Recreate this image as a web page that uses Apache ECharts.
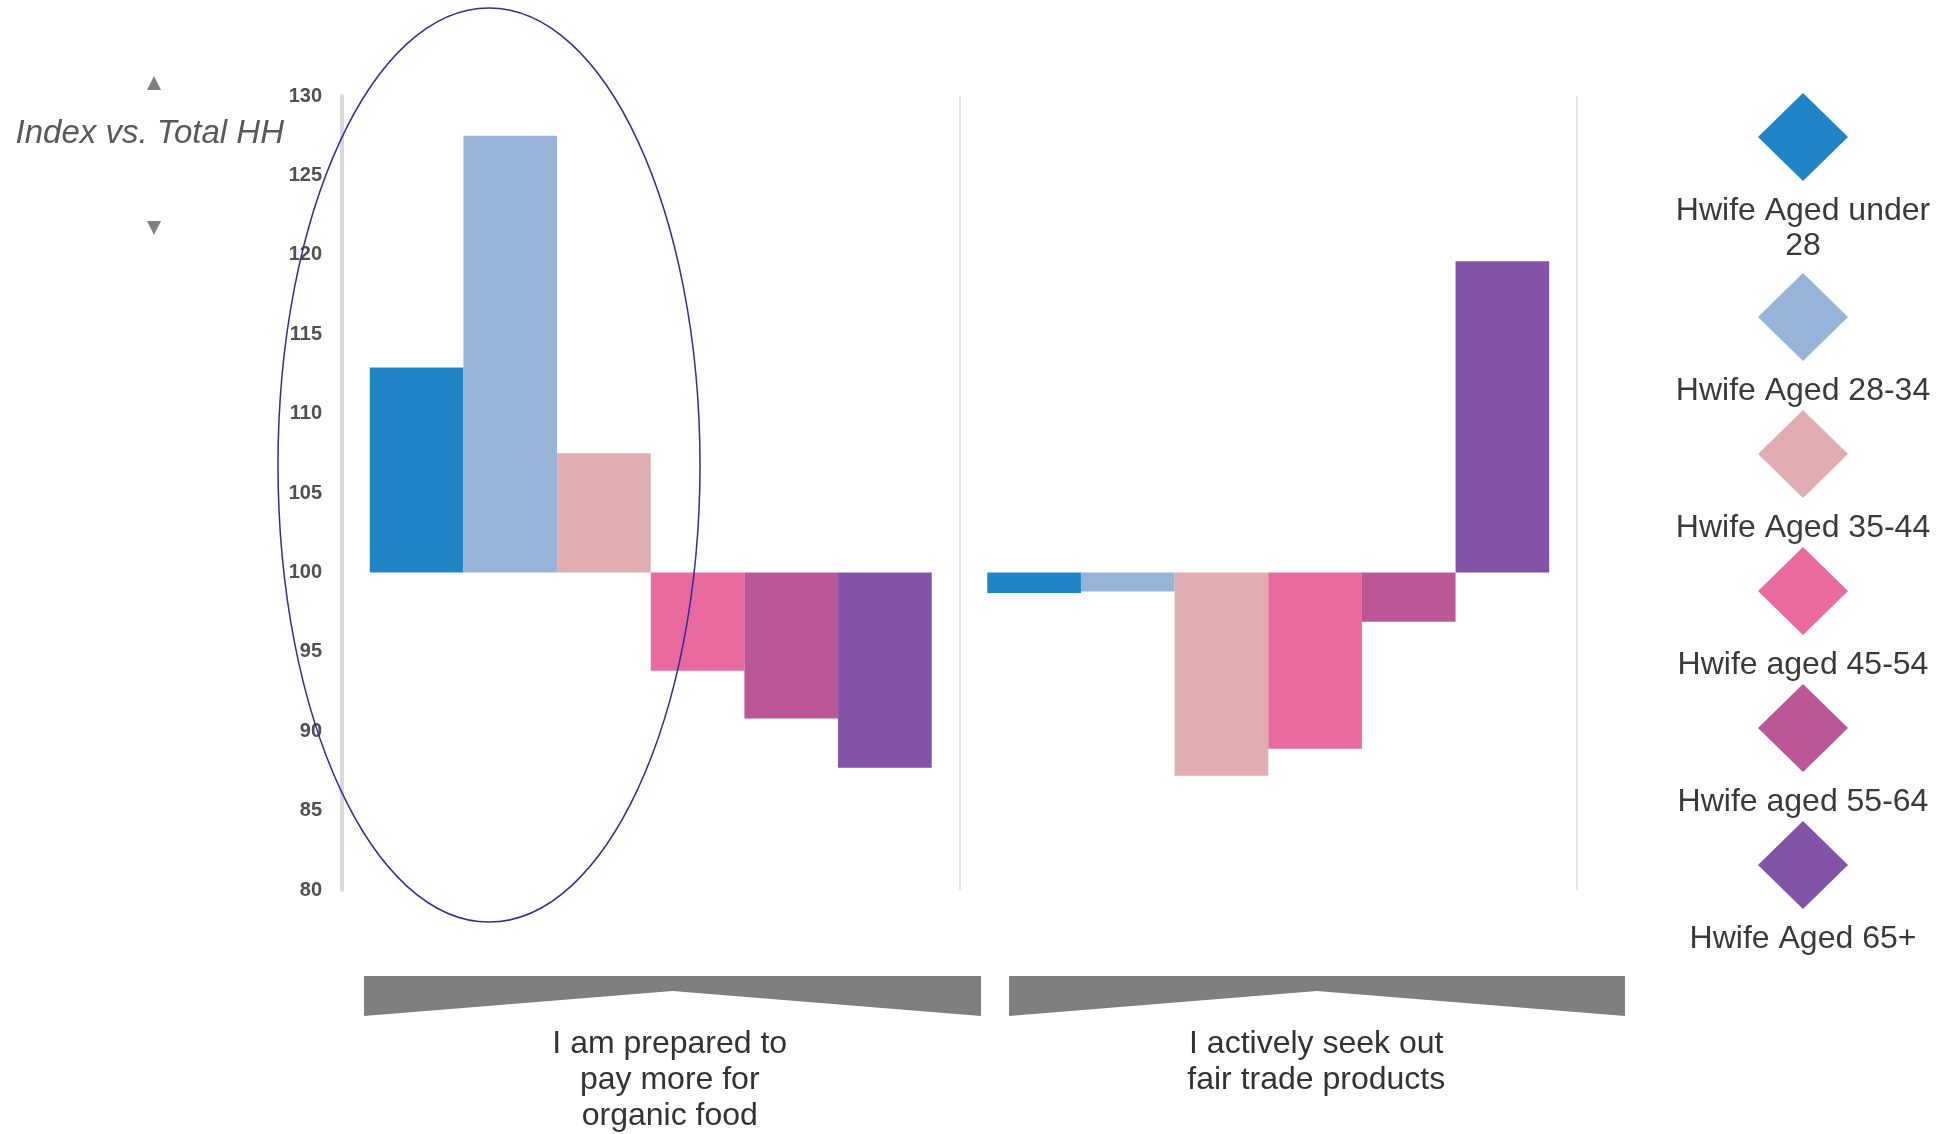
<!DOCTYPE html>
<html><head><meta charset="utf-8">
<script src="https://cdn.jsdelivr.net/npm/echarts@6/dist/echarts.min.js"></script>
<style>html,body{margin:0;padding:0;background:#fff}#c{width:1950px;height:1134px}</style>
</head><body><div id="c"></div>
<script>
// ---- data ----
const categories = ['I am prepared to\npay more for\norganic food', 'I actively seek out\nfair trade products'];
const seriesNames = ['Hwife Aged under 28', 'Hwife Aged 28-34', 'Hwife Aged 35-44', 'Hwife aged 45-54', 'Hwife aged 55-64', 'Hwife Aged 65+'];
const legendLabels = ['Hwife Aged under\n28', 'Hwife Aged 28-34', 'Hwife Aged 35-44', 'Hwife aged 45-54', 'Hwife aged 55-64', 'Hwife Aged 65+'];
const under28   = [112.9, 98.7];
const aged28_34 = [127.5, 98.8];
const aged35_44 = [107.5, 87.2];
const aged45_54 = [93.8, 88.9];
const aged55_64 = [90.8, 96.9];
const aged65up  = [87.7, 119.6];
const yTicks = [80, 85, 90, 95, 100, 105, 110, 115, 120, 125, 130];
const BASE = 100;
const colors = ['#1F85C6', '#97B3D7', '#E0AEB0', '#E96A9E', '#BB5697', '#8353A8'];

const allSeries = [under28, aged28_34, aged35_44, aged45_54, aged55_64, aged65up];
const FONT = "'Liberation Sans', Arial, sans-serif";

const chart = echarts.init(document.getElementById('c'));

const graphics = [];
// axis arrows
graphics.push({type: 'polygon', shape: {points: [[147, 90], [161, 90], [154, 76]]}, style: {fill: '#7f7f7f'}});
graphics.push({type: 'polygon', shape: {points: [[147, 221], [161, 221], [154, 235]]}, style: {fill: '#7f7f7f'}});
// banners under categories
[[364, 981], [1009, 1625]].forEach(function (b) {
  const mid = (b[0] + b[1]) / 2;
  graphics.push({type: 'polygon', shape: {points: [[b[0], 976], [b[1], 976], [b[1], 1016], [mid, 991], [b[0], 1016]]}, style: {fill: '#7f7f7f'}});
});
// highlight ellipse
graphics.push({type: 'ellipse', shape: {cx: 489, cy: 465, rx: 211, ry: 457}, style: {fill: 'none', stroke: '#2E2E9E', lineWidth: 1.5}, z: 100});
// legend
seriesNames.forEach(function (n, i) {
  const cy = 137 + 137 * i + (i >= 1 ? 43 : 0);
  graphics.push({type: 'polygon', shape: {points: [[1803, cy - 44], [1848, cy], [1803, cy + 44], [1758, cy]]}, style: {fill: colors[i]}});
  graphics.push({type: 'text', x: 1803, y: cy + 74 - 17.5, style: {text: legendLabels[i], font: '32px ' + FONT, fill: '#3a3a3a', align: 'center', verticalAlign: 'top', lineHeight: 35}});
});

const option = {
  backgroundColor: '#fff',
  animation: false,
  grid: {left: 342, right: 373, top: 96, bottom: 242},
  xAxis: {
    type: 'category',
    data: categories,
    axisLine: {show: false},
    axisTick: {show: false},
    splitLine: {show: true, lineStyle: {color: '#e4e4e4', width: 2}},
    axisLabel: {
      margin: 136,
      fontFamily: FONT,
      fontSize: 32,
      lineHeight: 36,
      color: '#333',
      formatter: function (v, i) { return '{c' + i + '|' + v + '}'; },
      rich: {
        c0: {fontSize: 32, lineHeight: 36, fontFamily: FONT, color: '#333', padding: [0, 0, 0, 38]},
        c1: {fontSize: 32, lineHeight: 36, fontFamily: FONT, color: '#333', padding: [0, 0, 0, 96]}
      }
    }
  },
  yAxis: {
    type: 'value',
    min: yTicks[0] - BASE,
    max: yTicks[yTicks.length - 1] - BASE,
    interval: yTicks[1] - yTicks[0],
    name: 'Index vs. Total HH',
    nameLocation: 'end',
    nameGap: -38,
    nameTextStyle: {fontFamily: FONT, fontStyle: 'italic', fontSize: 33, color: '#595959', align: 'right', verticalAlign: 'middle', padding: [0, 58, 0, 0]},
    axisLine: {show: true, lineStyle: {color: '#d9d9d9', width: 4}},
    axisTick: {show: false},
    splitLine: {show: false},
    axisLabel: {fontFamily: FONT, fontSize: 20, fontWeight: 'bold', color: '#505050', margin: 20,
      formatter: function (v) { return String(v + BASE); }}
  },
  series: seriesNames.map(function (n, i) {
    return {
      name: n,
      type: 'bar',
      barGap: '0%',
      barCategoryGap: '9%',
      itemStyle: {color: colors[i]},
      data: allSeries[i].map(function (v) { return +(v - BASE).toFixed(2); })
    };
  }),
  graphic: graphics
};
chart.setOption(option);
</script>
</body></html>
